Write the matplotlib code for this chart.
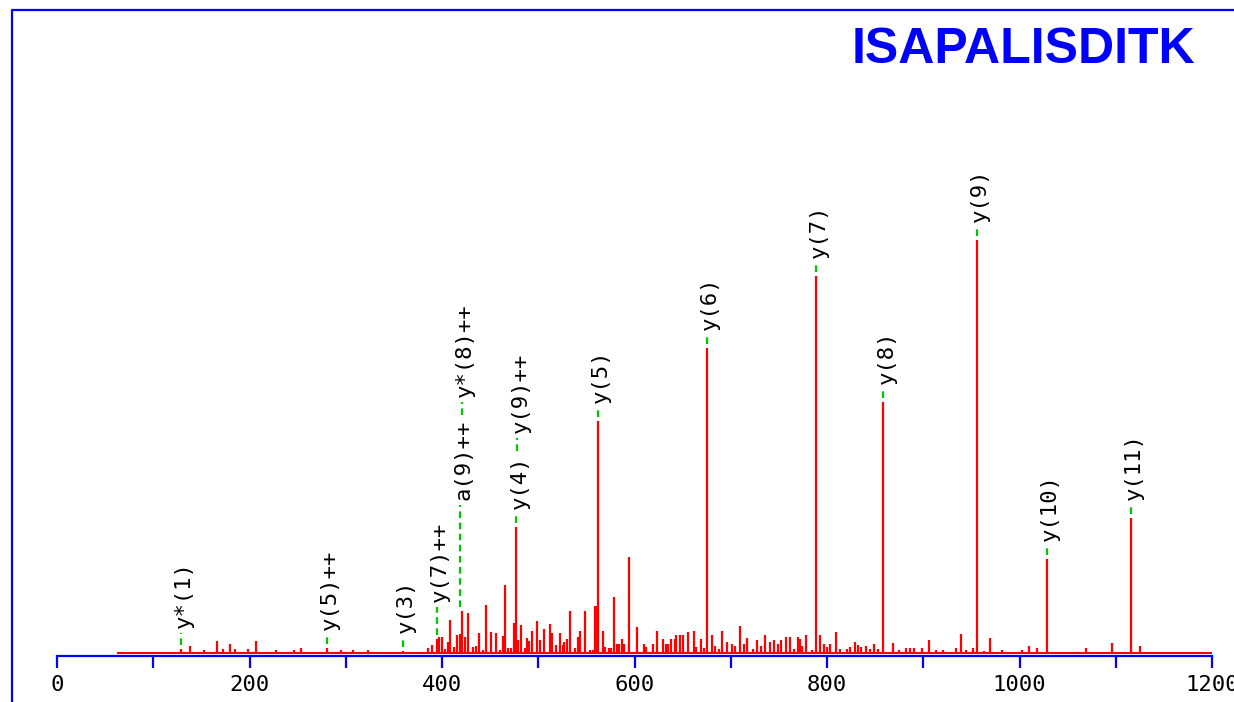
import matplotlib
matplotlib.use("Agg")
import matplotlib.pyplot as plt
import matplotlib.transforms as mtransforms
from matplotlib.lines import Line2D
import numpy as np

plt.rcParams["font.family"] = "DejaVu Sans Mono"

peptide = "ISAPALISDITK"

# Centroided peak list: m/z and relative intensity (% of base peak)
peak_mz = [
    128.8, 138.2, 152.7, 166.2, 172.5, 179.7, 184.9, 198.4, 206.8, 227.5,
    246.2, 253.5, 280.5, 295.1, 307.5, 323.1, 359.5, 385.5, 389.6, 394.8,
    397.4, 400.0, 403.1, 406.2, 408.8, 412.5, 416.1, 418.7, 420.8, 423.9,
    427.5, 432.2, 435.8, 438.4, 442.6, 446.2, 450.9, 456.1, 460.3, 462.9,
    465.5, 468.6, 472.2, 474.8, 477.4, 479.0, 482.1, 486.2, 488.8, 490.9,
    494.0, 499.2, 502.3, 506.0, 512.2, 514.8, 518.4, 522.1, 525.2, 526.8,
    529.4, 533.0, 538.2, 540.8, 543.4, 548.1, 553.8, 556.4, 559.0, 560.5,
    562.1, 566.8, 569.4, 573.0, 576.1, 578.2, 581.3, 584.4, 586.5, 588.6,
    594.8, 602.1, 609.4, 612.0, 619.7, 622.9, 630.1, 632.7, 635.3, 637.9,
    641.6, 643.6, 646.8, 649.9, 656.1, 661.3, 664.4, 669.1, 671.7, 675.3,
    680.0, 683.6, 688.3, 691.4, 695.6, 700.8, 704.4, 710.1, 713.8, 717.4,
    722.6, 726.8, 731.9, 735.6, 740.8, 744.9, 749.6, 752.7, 757.4, 761.6,
    765.2, 769.4, 771.9, 774.5, 778.7, 783.9, 788.6, 792.7, 796.4, 799.5,
    803.1, 809.4, 813.5, 820.3, 823.9, 828.6, 831.7, 835.3, 841.0, 844.7,
    848.8, 853.5, 858.7, 868.1, 875.3, 882.1, 886.2, 889.9, 898.2, 906.0,
    913.2, 921.0, 934.5, 939.2, 944.9, 952.2, 955.8, 962.6, 969.4, 981.3,
    1002.1, 1009.9, 1018.7, 1028.6, 1069.1, 1096.6, 1115.8, 1125.2,
]
peak_int = [
    1.0, 1.7, 0.7, 2.9, 1.0, 2.2, 1.0, 1.0, 2.9, 0.7,
    0.7, 1.2, 1.2, 0.7, 0.7, 0.7, 0.5, 1.2, 1.9, 3.4,
    3.9, 3.9, 1.0, 2.7, 8.0, 1.5, 4.4, 4.6, 10.2, 3.9,
    9.7, 1.5, 1.7, 4.8, 0.7, 11.6, 5.1, 4.8, 0.7, 4.1,
    16.5, 1.2, 1.2, 7.3, 30.5, 3.1, 6.8, 1.2, 3.6, 2.9,
    5.3, 7.7, 3.1, 5.8, 7.0, 4.8, 1.9, 4.8, 1.9, 2.7,
    3.4, 10.2, 1.2, 3.9, 5.3, 10.2, 0.7, 0.7, 11.4, 11.4,
    56.2, 5.3, 1.5, 1.2, 1.2, 13.6, 2.2, 2.2, 3.4, 2.2,
    23.2, 6.3, 2.2, 1.5, 2.2, 5.3, 3.4, 2.2, 2.2, 3.4,
    3.4, 4.4, 4.4, 4.4, 5.1, 5.3, 1.5, 3.4, 1.2, 73.8,
    4.4, 1.7, 1.0, 5.3, 2.7, 2.2, 1.7, 6.5, 2.2, 3.6,
    1.0, 3.1, 1.7, 4.4, 2.7, 3.1, 2.2, 3.1, 3.9, 3.9,
    1.0, 3.9, 3.4, 1.7, 4.4, 0.7, 91.3, 4.4, 2.2, 1.5,
    2.2, 5.1, 1.0, 1.0, 1.5, 2.7, 1.9, 1.5, 1.7, 1.0,
    2.2, 1.0, 60.8, 2.4, 0.7, 1.2, 1.2, 1.2, 1.2, 3.1,
    0.7, 0.7, 1.2, 4.6, 0.7, 1.2, 100.0, 0.5, 3.6, 0.7,
    0.7, 1.7, 1.2, 22.8, 1.2, 2.4, 32.7, 1.7,
]

# Matched fragment ions
ion_labels = ["y*(1)", "y(5)++", "y(3)", "y(7)++", "a(9)++", "y*(8)++",
              "y(4)", "y(9)++", "y(5)", "y(6)", "y(7)", "y(8)", "y(9)",
              "y(10)", "y(11)"]
ion_mz = [128.8, 280.5, 359.5, 394.8, 419.2, 420.8, 477.4, 478.4,
          562.1, 675.3, 788.6, 858.7, 955.8, 1028.6, 1115.8]
ion_int = [1.0, 1.2, 0.5, 3.4, 10.2, 10.2, 30.5, 3.1,
           56.2, 73.8, 91.3, 60.8, 100.0, 22.8, 32.7]

major_ticks = [0, 200, 400, 600, 800, 1000, 1200]
minor_ticks = [100, 300, 500, 700, 900, 1100]
mz_range = (62.3, 1200)

W, H = 1234, 702
fig = plt.figure(figsize=(W / 100, H / 100), dpi=100)
ax = fig.add_axes([57 / W, 46 / H, 1155 / W, 647 / H])
ax.set_xlim(0, 1200)
ax.set_ylim(-0.75, 155.9)

for side in ["top", "left", "right"]:
    ax.spines[side].set_visible(False)
ax.spines["bottom"].set_color("#0000ff")
ax.spines["bottom"].set_linewidth(1.6)
ax.set_yticks([])
ax.set_xticks(major_ticks)
ax.set_xticks(minor_ticks, minor=True)
ax.tick_params(axis="x", which="both", direction="out", length=8.6, width=1.6,
               color="#0000ff", labelsize=16, pad=5)

# spectrum: baseline plus sticks
ax.hlines(0, mz_range[0], mz_range[1], color="#ff0000", lw=1.5, zorder=2)
ax.vlines(peak_mz, 0, peak_int, color="#ff0000", lw=1.6, zorder=2)

# ion labels, stacked where they would collide
renderer = fig.canvas.get_renderer()
inv = ax.transData.inverted()
text_tr = mtransforms.offset_copy(ax.transData, fig=fig, x=3, y=0, units="dots")
placed = []
for i in np.argsort(ion_mz):
    mz = ion_mz[i]
    x0, y_peak = ax.transData.transform((mz, ion_int[i]))
    near = [h for m, h in zip(peak_mz, peak_int) if abs(m - mz) <= 15]
    y_near = ax.transData.transform((mz, max(near + [ion_int[i]])))[1]

    t = ax.text(mz, 0, ion_labels[i], rotation=90, ha="center", va="bottom",
                fontsize=16, color="black", transform=text_tr, clip_on=False,
                zorder=4)
    length = t.get_window_extent(renderer).height

    bottom = y_near + 18
    floor = y_peak
    for xp, bp, tp in placed:
        if abs(xp - x0) < 30 and bottom < tp + 22 and bottom + length + 22 > bp:
            bottom = tp + 22
            if abs(xp - x0) < 5:
                floor = tp
    t.set_y(inv.transform((x0, bottom))[1])
    placed.append((x0, bottom, bottom + length))

    y_lo = inv.transform((x0, floor + 4))[1]
    y_hi = inv.transform((x0, bottom - 5))[1]
    ax.plot([mz, mz], [y_lo, y_hi], color="#00c800", lw=1.6,
            linestyle=(0, (3, 2)), zorder=3, clip_on=False)

# outer frame (left and top edges)
fx = 11.5 / W
fy = 1 - 9.5 / H
fig.add_artist(Line2D([fx, fx, 1], [0, fy, fy], transform=fig.transFigure,
                      color="#0000ff", lw=1.6))

fig.text(1195 / W, 1 - 63 / H, peptide, ha="right", va="baseline",
         fontsize=36, fontweight="bold", color="#0000ff",
         family="Liberation Sans")

fig.savefig("out.png", dpi=100)
